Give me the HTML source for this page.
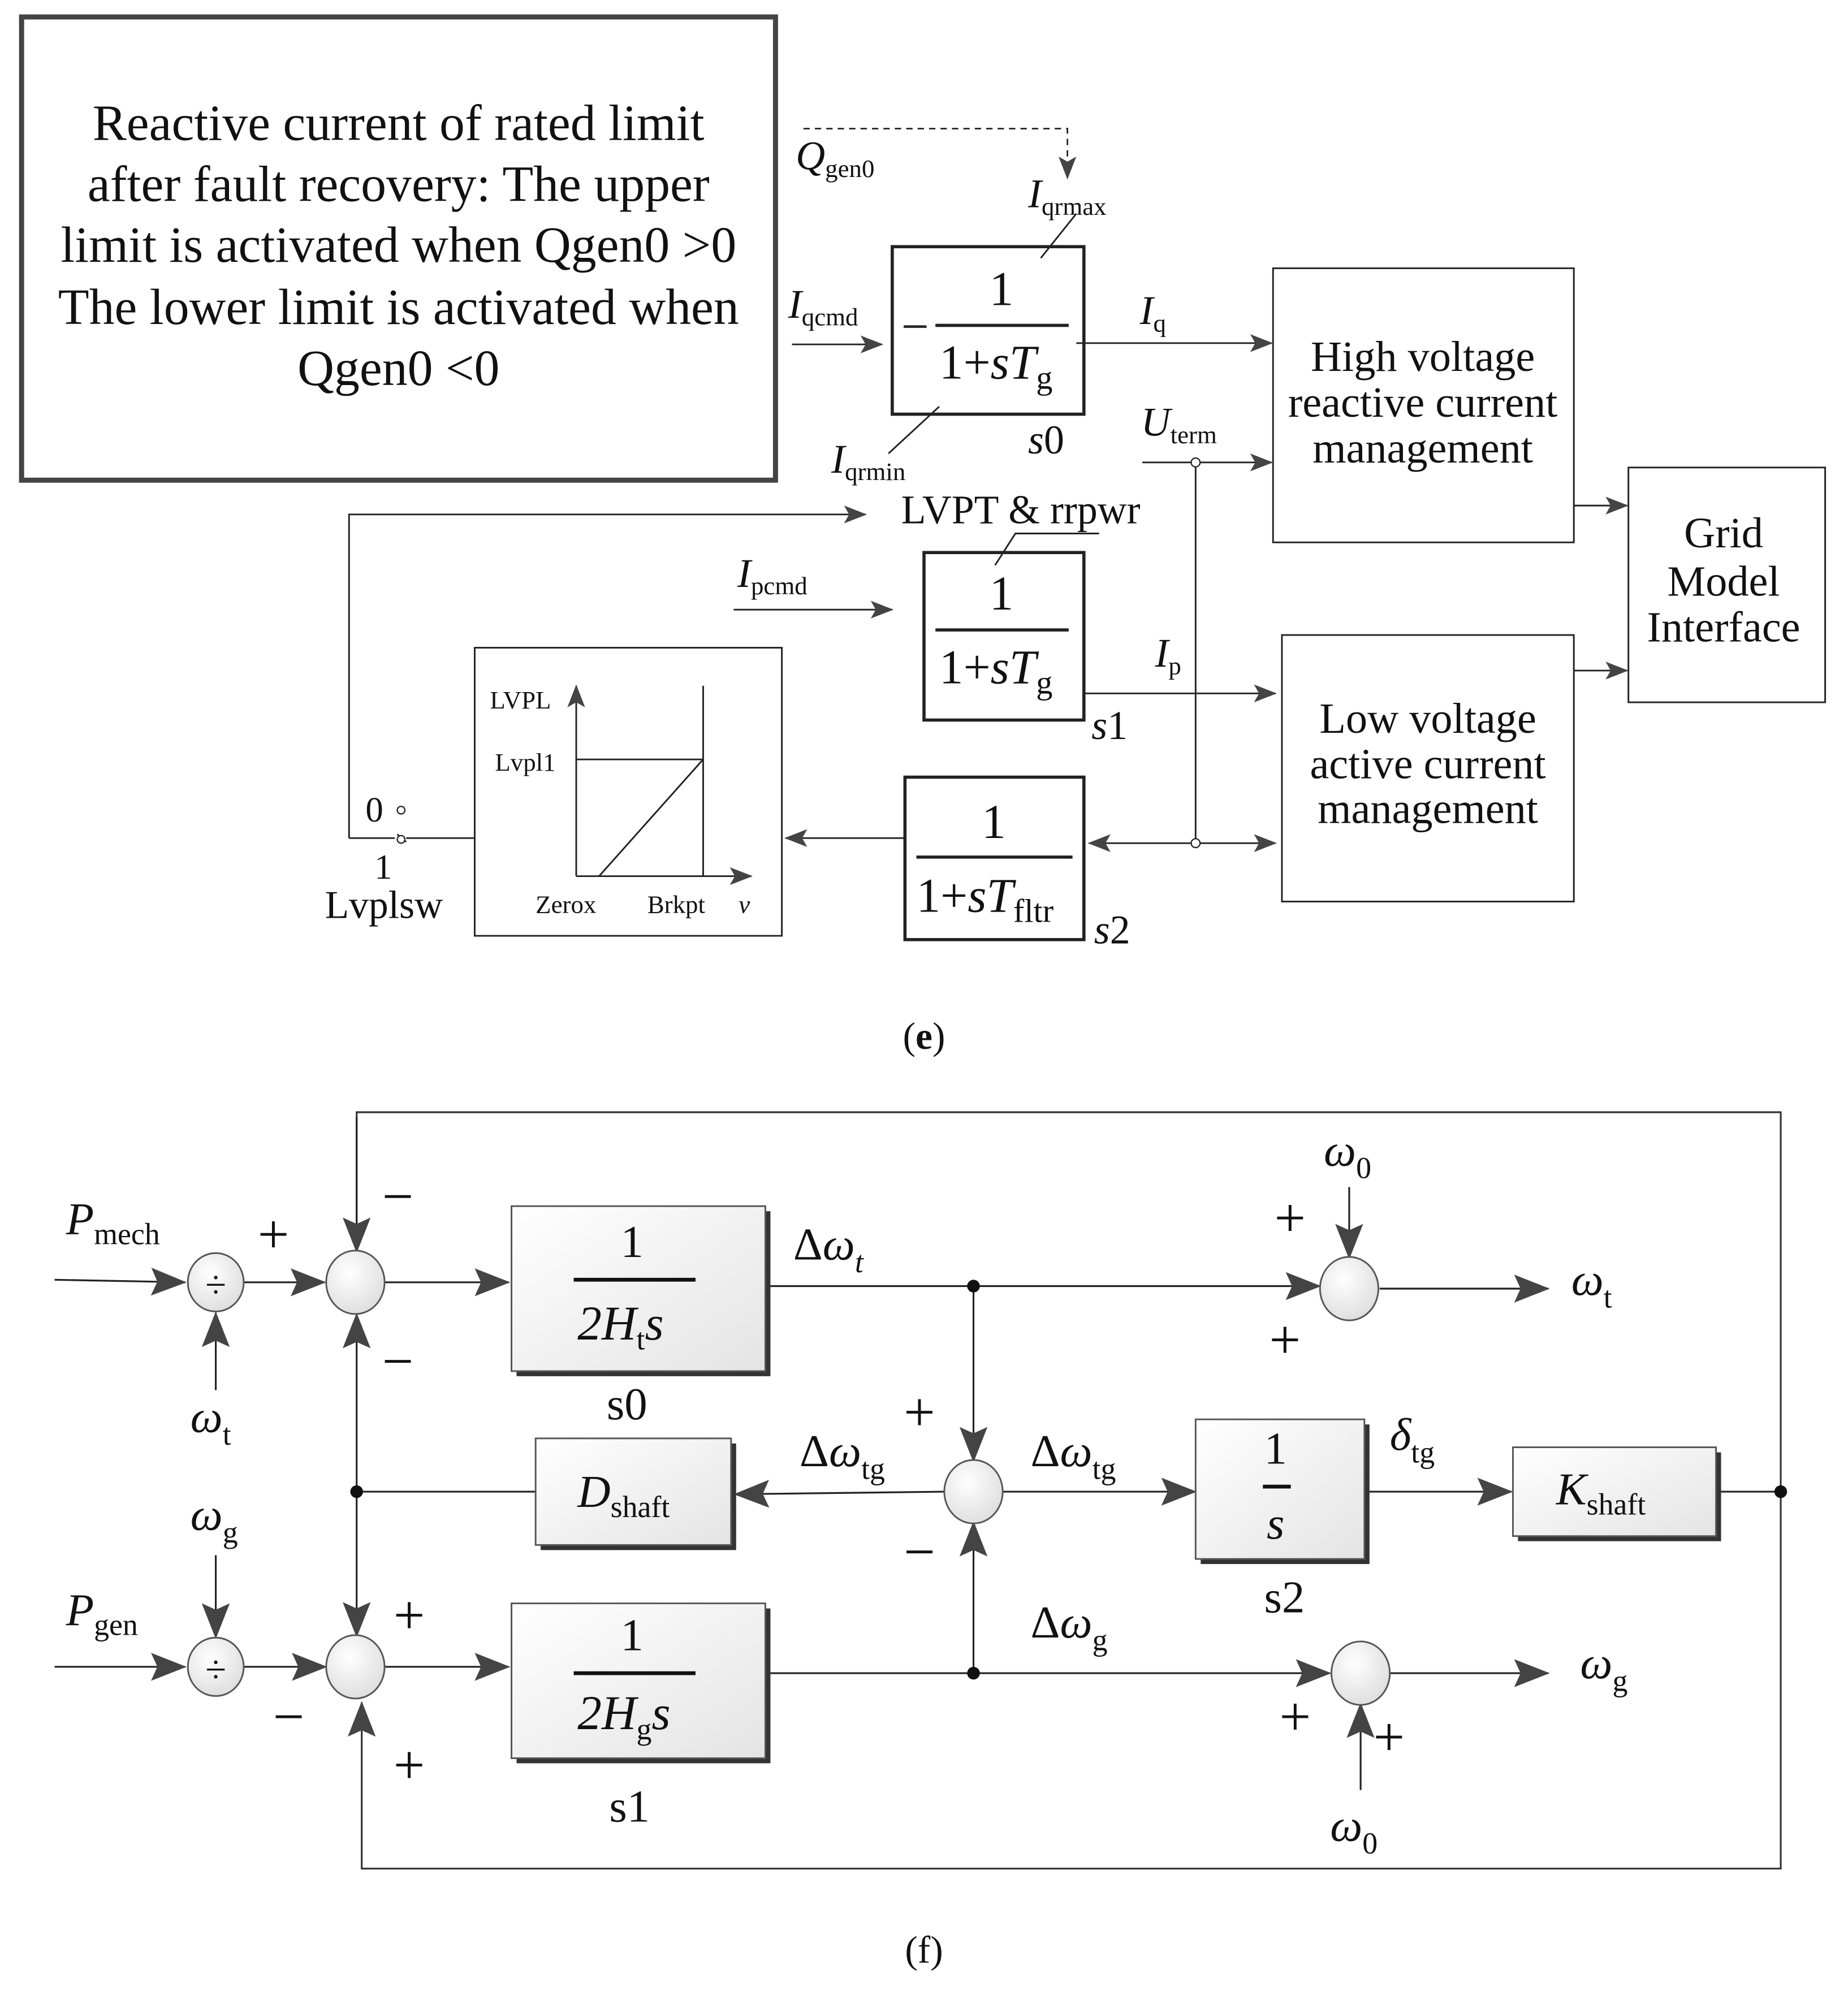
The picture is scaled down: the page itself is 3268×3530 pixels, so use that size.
<!DOCTYPE html>
<html><head><meta charset="utf-8"><style>
html,body{margin:0;padding:0;background:#fff}
svg{display:block}
text{font-family:"Liberation Serif",serif;fill:#111}
.i{font-style:italic}
</style></head><body>
<svg width="3268" height="3530" viewBox="0 0 1456 1572" xmlns="http://www.w3.org/2000/svg">
<defs>
<marker id="a" markerWidth="18" markerHeight="14" refX="17" refY="7" orient="auto" markerUnits="userSpaceOnUse"><path d="M0,0 L18,7 L0,14 L4,7 Z" fill="#444"/></marker>
<marker id="b" markerWidth="28" markerHeight="22" refX="27" refY="11" orient="auto" markerUnits="userSpaceOnUse"><path d="M0,0 L28,11 L0,22 L5,11 Z" fill="#444"/></marker>
<linearGradient id="g" x1="0" y1="0" x2="1" y2="1"><stop offset="0" stop-color="#fff"/><stop offset="1" stop-color="#e4e4e4"/></linearGradient>
<radialGradient id="c" cx="0.4" cy="0.35" r="0.7"><stop offset="0" stop-color="#fff"/><stop offset="1" stop-color="#ddd"/></radialGradient>
</defs>
<g stroke="#222" fill="none">
<rect x="17" y="13" width="594" height="365" stroke="#444" stroke-width="4"/>
<path d="M633,101 H841 V140" stroke-dasharray="5,4" stroke-width="1.2" marker-end="url(#a)"/>
<rect x="703" y="194" width="151" height="132" stroke-width="2.5"/>
<line x1="737" y1="256" x2="842" y2="256" stroke-width="2.5"/>
<line x1="712" y1="257" x2="730" y2="257" stroke-width="2"/>
<line x1="820" y1="203" x2="848" y2="168" stroke-width="1.3"/>
<line x1="740" y1="320" x2="700" y2="357" stroke-width="1.3"/>
<line x1="624" y1="271" x2="695" y2="271" stroke-width="1.3" marker-end="url(#a)"/>
<line x1="848" y1="270" x2="1002" y2="270" stroke-width="1.3" marker-end="url(#a)"/>
<rect x="1003" y="211" width="237" height="216" stroke-width="1.3"/>
<line x1="900" y1="364" x2="1002" y2="364" stroke-width="1.3" marker-end="url(#a)"/>
<line x1="942" y1="364" x2="942" y2="664" stroke-width="1.3"/>
<rect x="1283" y="368" width="155" height="185" stroke-width="1.3"/>
<line x1="1240" y1="398" x2="1282" y2="398" stroke-width="1.3" marker-end="url(#a)"/>
<line x1="1240" y1="528" x2="1282" y2="528" stroke-width="1.3" marker-end="url(#a)"/>
<path d="M275,660 V405 H682" stroke-width="1.3" marker-end="url(#a)"/>
<rect x="728" y="435" width="126" height="132" stroke-width="2.5"/>
<line x1="737" y1="496" x2="842" y2="496" stroke-width="2.5"/>
<path d="M784,445 L800,420 H866" stroke-width="1.3"/>
<line x1="578" y1="480" x2="703" y2="480" stroke-width="1.3" marker-end="url(#a)"/>
<line x1="854" y1="546" x2="1005" y2="546" stroke-width="1.3" marker-end="url(#a)"/>
<rect x="1010" y="500" width="230" height="210" stroke-width="1.3"/>
<rect x="713" y="612" width="141" height="128" stroke-width="2.5"/>
<line x1="722" y1="675" x2="845" y2="675" stroke-width="2.5"/>
<line x1="942" y1="664" x2="1005" y2="664" stroke-width="1.3" marker-end="url(#a)"/>
<line x1="942" y1="664" x2="858" y2="664" stroke-width="1.3" marker-end="url(#a)"/>
<line x1="713" y1="660" x2="619" y2="660" stroke-width="1.3" marker-end="url(#a)"/>
<rect x="374" y="510" width="242" height="227" stroke-width="1.3"/>
<line x1="454" y1="690" x2="454" y2="540" stroke-width="1.3" marker-end="url(#a)"/>
<line x1="454" y1="690" x2="592" y2="690" stroke-width="1.3" marker-end="url(#a)"/>
<path d="M454,598 H554 M554,540 V690 M472,690 L554,598" stroke-width="1.3"/>
<path d="M275,660 H311 M320,660 L374,660 M313,657 L320,663" stroke-width="1.3"/>
<circle cx="316" cy="638" r="3" fill="#fff" stroke-width="1"/>
<circle cx="316" cy="661" r="3" fill="#fff" stroke-width="1"/>
<circle cx="942" cy="364" r="3.5" fill="#fff" stroke-width="1"/>
<circle cx="942" cy="664" r="3.5" fill="#fff" stroke-width="1"/>
</g>
<g font-size="40" text-anchor="middle">
<text x="314" y="110">Reactive current of rated limit</text>
<text x="314" y="158">after fault recovery: The upper</text>
<text x="314" y="206">limit is activated when Qgen0 &gt;0</text>
<text x="314" y="255">The lower limit is activated when</text>
<text x="314" y="303">Qgen0 &lt;0</text>
</g>
<g font-size="32">
<text x="627" y="133" class="i">Q<tspan font-size="20" font-style="normal" dy="6">gen0</tspan></text>
<text x="810" y="163" class="i">I<tspan font-size="20" font-style="normal" dy="6">qrmax</tspan></text>
<text x="621" y="250" class="i">I<tspan font-size="20" font-style="normal" dy="6">qcmd</tspan></text>
<text x="655" y="372" class="i">I<tspan font-size="20" font-style="normal" dy="6">qrmin</tspan></text>
<text x="898" y="255" class="i">I<tspan font-size="20" font-style="normal" dy="6">q</tspan></text>
<text x="899" y="343" class="i">U<tspan font-size="20" font-style="normal" dy="6">term</tspan></text>
<text x="581" y="462" class="i">I<tspan font-size="20" font-style="normal" dy="6">pcmd</tspan></text>
<text x="910" y="525" class="i">I<tspan font-size="20" font-style="normal" dy="6">p</tspan></text>
<text x="789" y="240" font-size="38" text-anchor="middle">1</text>
<text x="740" y="298" font-size="38">1+<tspan class="i">sT</tspan><tspan font-size="26" dy="8">g</tspan></text>
<text x="810" y="357" class="i">s<tspan font-style="normal">0</tspan></text>
<text x="789" y="480" font-size="38" text-anchor="middle">1</text>
<text x="740" y="538" font-size="38">1+<tspan class="i">sT</tspan><tspan font-size="26" dy="8">g</tspan></text>
<text x="860" y="582" class="i">s<tspan font-style="normal">1</tspan></text>
<text x="783" y="660" font-size="38" text-anchor="middle">1</text>
<text x="722" y="718" font-size="38">1+<tspan class="i">sT</tspan><tspan font-size="26" dy="8">fltr</tspan></text>
<text x="862" y="743" class="i">s<tspan font-style="normal">2</tspan></text>
<text x="710" y="412">LVPT &amp; rrpwr</text>
<g text-anchor="middle" font-size="34">
<text x="1121" y="292">High voltage</text>
<text x="1121" y="328">reactive current</text>
<text x="1121" y="364">management</text>
<text x="1125" y="577">Low voltage</text>
<text x="1125" y="613">active current</text>
<text x="1125" y="648">management</text>
<text x="1358" y="431">Grid</text>
<text x="1358" y="469">Model</text>
<text x="1358" y="505">Interface</text>
</g>
<text x="386" y="558" font-size="20">LVPL</text>
<text x="390" y="607" font-size="20">Lvpl1</text>
<text x="422" y="719" font-size="20">Zerox</text>
<text x="510" y="719" font-size="20">Brkpt</text>
<text x="582" y="719" font-size="20" class="i">v</text>
<text x="288" y="647" font-size="28">0</text>
<text x="295" y="692" font-size="28">1</text>
<text x="256" y="723" font-size="31">Lvplsw</text>
<text x="728" y="826" font-size="30" text-anchor="middle">(<tspan font-weight="bold">e</tspan>)</text>
</g>
<g stroke="#222" fill="none" stroke-width="1.4">
<path d="M281,985 V876 H1403 V1472 H285 V1341" stroke="#333" marker-end="url(#b)"/>
<line x1="281" y1="880" x2="281" y2="986" marker-end="url(#b)"/>
<line x1="43" y1="1008" x2="146" y2="1010" marker-end="url(#b)"/>
<line x1="192" y1="1010" x2="256" y2="1010" marker-end="url(#b)"/>
<line x1="170" y1="1095" x2="170" y2="1034" marker-end="url(#b)"/>
<line x1="303" y1="1010" x2="401" y2="1010" marker-end="url(#b)"/>
<line x1="603" y1="1013" x2="1040" y2="1013" marker-end="url(#b)"/>
<line x1="1063" y1="935" x2="1063" y2="991" marker-end="url(#b)"/>
<line x1="1087" y1="1015" x2="1220" y2="1015" marker-end="url(#b)"/>
<line x1="767" y1="1013" x2="767" y2="1151" marker-end="url(#b)"/>
<line x1="744" y1="1175" x2="579" y2="1177" marker-end="url(#b)"/>
<line x1="422" y1="1175" x2="281" y2="1175"/>
<line x1="281" y1="1175" x2="281" y2="1035" marker-end="url(#b)"/>
<line x1="281" y1="1175" x2="281" y2="1289" marker-end="url(#b)"/>
<line x1="790" y1="1175" x2="942" y2="1175" marker-end="url(#b)"/>
<line x1="1075" y1="1175" x2="1191" y2="1175" marker-end="url(#b)"/>
<line x1="1352" y1="1175" x2="1403" y2="1175"/>
<line x1="43" y1="1313" x2="146" y2="1313" marker-end="url(#b)"/>
<line x1="170" y1="1225" x2="170" y2="1290" marker-end="url(#b)"/>
<line x1="192" y1="1313" x2="257" y2="1313" marker-end="url(#b)"/>
<line x1="303" y1="1313" x2="401" y2="1313" marker-end="url(#b)"/>
<line x1="603" y1="1318" x2="1048" y2="1318" marker-end="url(#b)"/>
<line x1="767" y1="1318" x2="767" y2="1199" marker-end="url(#b)"/>
<line x1="1072" y1="1410" x2="1072" y2="1342" marker-end="url(#b)"/>
<line x1="1095" y1="1318" x2="1220" y2="1318" marker-end="url(#b)"/>
</g>
<g fill="#111">
<circle cx="767" cy="1013" r="5"/><circle cx="281" cy="1175" r="5"/><circle cx="767" cy="1318" r="5"/><circle cx="1403" cy="1175" r="5"/>
</g>
<g stroke="#555" stroke-width="1.3">
<rect x="407" y="954" width="200" height="130" fill="#333" stroke="none"/>
<rect x="403" y="950" width="200" height="130" fill="url(#g)"/>
<rect x="407" y="1267" width="200" height="122" fill="#333" stroke="none"/>
<rect x="403" y="1263" width="200" height="122" fill="url(#g)"/>
<rect x="426" y="1137" width="154" height="84" fill="#333" stroke="none"/>
<rect x="422" y="1133" width="154" height="84" fill="url(#g)"/>
<rect x="946" y="1122" width="133" height="110" fill="#333" stroke="none"/>
<rect x="942" y="1118" width="133" height="110" fill="url(#g)"/>
<rect x="1196" y="1144" width="160" height="70" fill="#333" stroke="none"/>
<rect x="1192" y="1140" width="160" height="70" fill="url(#g)"/>
<ellipse cx="170" cy="1010" rx="22" ry="23" fill="url(#c)"/>
<ellipse cx="280" cy="1010" rx="23" ry="25" fill="url(#c)"/>
<ellipse cx="1063" cy="1015" rx="23" ry="25" fill="url(#c)"/>
<ellipse cx="767" cy="1175" rx="23" ry="25" fill="url(#c)"/>
<ellipse cx="170" cy="1313" rx="22" ry="23" fill="url(#c)"/>
<ellipse cx="280" cy="1313" rx="23" ry="25" fill="url(#c)"/>
<ellipse cx="1072" cy="1318" rx="23" ry="25" fill="url(#c)"/>
</g>
<g stroke="#111" stroke-width="3">
<line x1="452" y1="1008" x2="548" y2="1008"/>
<line x1="452" y1="1318" x2="548" y2="1318"/>
<line x1="995" y1="1171" x2="1017" y2="1171"/>
</g>
<g font-size="36">
<text x="170" y="1022" text-anchor="middle" font-size="30">÷</text>
<text x="170" y="1325" text-anchor="middle" font-size="30">÷</text>
<text x="498" y="990" text-anchor="middle">1</text>
<text x="455" y="1055" class="i" font-size="38">2H<tspan font-size="24" font-style="normal" dy="8">t</tspan><tspan dy="-8">s</tspan></text>
<text x="498" y="1300" text-anchor="middle">1</text>
<text x="455" y="1362" class="i" font-size="38">2H<tspan font-size="24" font-style="normal" dy="8">g</tspan><tspan dy="-8">s</tspan></text>
<text x="1005" y="1153" text-anchor="middle">1</text>
<text x="1005" y="1212" text-anchor="middle" class="i">s</text>
<text x="455" y="1187" class="i">D<tspan font-size="24" font-style="normal" dy="8">shaft</tspan></text>
<text x="1226" y="1185" class="i">K<tspan font-size="24" font-style="normal" dy="8">shaft</tspan></text>
<text x="478" y="1118">s0</text>
<text x="480" y="1435">s1</text>
<text x="996" y="1270">s2</text>
<text x="52" y="972" class="i">P<tspan font-size="24" font-style="normal" dy="8">mech</tspan></text>
<text x="52" y="1280" class="i">P<tspan font-size="24" font-style="normal" dy="8">gen</tspan></text>
<text x="150" y="1128" class="i">ω<tspan font-size="24" font-style="normal" dy="10">t</tspan></text>
<text x="150" y="1205" class="i">ω<tspan font-size="24" font-style="normal" dy="10">g</tspan></text>
<text x="1043" y="918" class="i">ω<tspan font-size="24" font-style="normal" dy="10">0</tspan></text>
<text x="1048" y="1450" class="i">ω<tspan font-size="24" font-style="normal" dy="10">0</tspan></text>
<text x="1238" y="1020" class="i">ω<tspan font-size="24" font-style="normal" dy="10">t</tspan></text>
<text x="1245" y="1322" class="i">ω<tspan font-size="24" font-style="normal" dy="10">g</tspan></text>
<text x="625" y="992">Δ<tspan class="i">ω</tspan><tspan font-size="24" class="i" dy="10">t</tspan></text>
<text x="630" y="1155">Δ<tspan class="i">ω</tspan><tspan font-size="24" dy="10">tg</tspan></text>
<text x="812" y="1155">Δ<tspan class="i">ω</tspan><tspan font-size="24" dy="10">tg</tspan></text>
<text x="812" y="1290">Δ<tspan class="i">ω</tspan><tspan font-size="24" dy="10">g</tspan></text>
<text x="1095" y="1142" class="i">δ<tspan font-size="24" font-style="normal" dy="10">tg</tspan></text>
<g font-size="44" font-family="Liberation Sans">
<text x="203" y="987">+</text>
<text x="301" y="957">−</text>
<text x="301" y="1087">−</text>
<text x="1004" y="974">+</text>
<text x="1000" y="1070">+</text>
<text x="712" y="1127">+</text>
<text x="712" y="1237">−</text>
<text x="310" y="1287">+</text>
<text x="215" y="1367">−</text>
<text x="310" y="1405">+</text>
<text x="1008" y="1367">+</text>
<text x="1082" y="1383">+</text>
</g>
<text x="728" y="1546" font-size="30" text-anchor="middle">(f)</text>
</g>
</svg>
</body></html>
